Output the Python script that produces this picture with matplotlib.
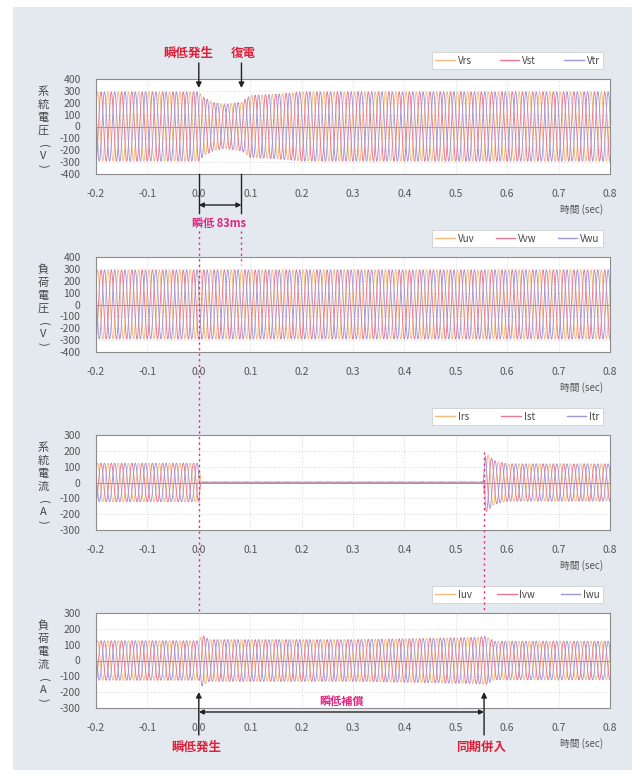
import numpy as np
import matplotlib
matplotlib.use('Agg')
import matplotlib.pyplot as plt
from matplotlib.patches import Rectangle
from matplotlib.lines import Line2D
import matplotlib.transforms as mtransforms

plt.rcParams['font.family'] = ['Noto Sans CJK JP', 'DejaVu Sans']

# ---------------- data ----------------
T_START, T_END = -0.2, 0.8
FREQ_HZ = 50                      # about 10 cycles per 0.2 s
X_TICKS = [-0.2, -0.1, 0.0, 0.1, 0.2, 0.3, 0.4, 0.5, 0.6, 0.7, 0.8]
X_TICK_LABELS = ['-0.2', '-0.1', '0.0', '0.1', '0.2', '0.3', '0.4', '0.5', '0.6', '0.7', '0.8']

V_TICKS = [-400, -300, -200, -100, 0, 100, 200, 300, 400]
I_TICKS = [-300, -200, -100, 0, 100, 200, 300]

# peak-amplitude envelopes (time knots, peak value)
grid_v_t = [-0.2, 0.0, 0.01, 0.03, 0.05, 0.083, 0.10, 0.15, 0.20, 0.8]
grid_v_a = [292, 292, 245, 200, 185, 205, 262, 272, 292, 292]

load_v_t = [-0.2, 0.8]
load_v_a = [290, 290]

grid_i_t = [-0.2, 0.0, 0.004, 0.553, 0.558, 0.575, 0.60, 0.8]
grid_i_a = [122, 122, 4, 4, 188, 138, 118, 118]

load_i_t = [-0.2, 0.0, 0.006, 0.02, 0.30, 0.45, 0.54, 0.558, 0.575, 0.8]
load_i_a = [125, 125, 162, 132, 132, 140, 146, 153, 122, 122]

labels_grid_v = ['Vrs', 'Vst', 'Vtr']
labels_load_v = ['Vuv', 'Vvw', 'Vwu']
labels_grid_i = ['Irs', 'Ist', 'Itr']
labels_load_i = ['Iuv', 'Ivw', 'Iwu']

ylabel_grid_v = ['系', '統', '電', '圧', '(', 'V', ')']
ylabel_load_v = ['負', '荷', '電', '圧', '(', 'V', ')']
ylabel_grid_i = ['系', '統', '電', '流', '(', 'A', ')']
ylabel_load_i = ['負', '荷', '電', '流', '(', 'A', ')']

T_SAG = 0.0          # 瞬低発生
T_RECOVER = 0.083    # 復電
T_SYNC = 0.555       # 同期併入

PHASE_COLORS = ['#f3bb7e', '#ea7790', '#a595d4']

# ---------------- figure ----------------
W, H = 643, 773
fig = plt.figure(figsize=(W / 100, H / 100), dpi=100)
fig.patch.set_facecolor('white')


def fx(px):
    return px / W


def fy(py):
    return 1 - py / H


fig.patches.append(Rectangle((fx(13), fy(770)), fx(632) - fx(13), fy(7) - fy(770),
                             transform=fig.transFigure, facecolor='#e4e9ef',
                             edgecolor='none', zorder=-10))

AX_L, AX_R, AX_H = 96, 610, 95
TOPS = [79, 257, 435, 613]
TEXT_GRAY = '#555555'
RED = '#e0203a'
MAGENTA = '#e2237f'
# pixel offsets (from the axes top) of the stacked y-label characters
YLAB_OFFSETS = [13, 26, 39, 52, 67, 77, 87]

t = np.linspace(T_START, T_END, 20001)

panels = [
    (grid_v_t, grid_v_a, labels_grid_v, ylabel_grid_v, V_TICKS, (-400, 400)),
    (load_v_t, load_v_a, labels_load_v, ylabel_load_v, V_TICKS, (-400, 400)),
    (grid_i_t, grid_i_a, labels_grid_i, ylabel_grid_i, I_TICKS, (-300, 300)),
    (load_i_t, load_i_a, labels_load_i, ylabel_load_i, I_TICKS, (-300, 300)),
]

axes = []
for k, (kt, ka, labs, ylab, yt, ylim) in enumerate(panels):
    top = TOPS[k]
    ax = fig.add_axes([fx(AX_L), fy(top + AX_H), (AX_R - AX_L) / W, AX_H / H])
    ax.set_facecolor('white')
    amp = np.interp(t, kt, ka)
    handles = []
    for p in range(3):
        y = amp * np.sin(2 * np.pi * FREQ_HZ * t + 0.6 - p * 2 * np.pi / 3)
        ax.plot(t, y, color=PHASE_COLORS[p], lw=0.65, zorder=2 + p * 0.1)
        handles.append(Line2D([], [], color=PHASE_COLORS[p], lw=1.0))
    ax.axhline(0, color='#9a9a9a', lw=0.7, zorder=3)
    ax.set_xlim(T_START, T_END)
    ax.set_ylim(*ylim)
    ax.set_xticks(X_TICKS)
    ax.set_xticklabels(X_TICK_LABELS)
    ax.set_yticks(yt)
    ax.set_yticklabels([str(v) for v in yt])
    ax.tick_params(length=0, labelsize=7.5, labelcolor=TEXT_GRAY)
    ax.tick_params(axis='x', pad=11)
    ax.tick_params(axis='y', pad=11)
    ax.grid(True, color='#cfcfcf', lw=0.6, linestyle=(0, (1, 2)), zorder=1)
    ax.set_axisbelow(True)
    for s in ax.spines.values():
        s.set_color('#8c8c8c')
        s.set_linewidth(0.8)
    leg = ax.legend(handles, labs, loc='lower left',
                    bbox_to_anchor=((432 - AX_L) / (AX_R - AX_L), 1 + 10 / AX_H,
                                    171 / (AX_R - AX_L), 16 / AX_H),
                    mode='expand', ncol=3, frameon=True, fancybox=False,
                    facecolor='white', edgecolor='#cfcfcf', framealpha=1,
                    fontsize=7, handlelength=2.0, handletextpad=0.3,
                    borderaxespad=0, borderpad=0.35)
    for txt in leg.get_texts():
        txt.set_color('#444444')
    leg.get_frame().set_linewidth(0.6)
    for ch, off in zip(ylab, YLAB_OFFSETS):
        rot = -90 if ch in '()' else 0
        fig.text(fx(43), fy(top + off), ch, ha='center', va='center', fontsize=8,
                 color='#444444', rotation=rot)
    fig.text(fx(603), fy(top + AX_H + 36), '時間 (sec)', ha='right', va='center',
             fontsize=7, color=TEXT_GRAY)
    axes.append(ax)

ax1, ax4 = axes[0], axes[3]
b1 = mtransforms.blended_transform_factory(ax1.transData, fig.transFigure)
b4 = mtransforms.blended_transform_factory(ax4.transData, fig.transFigure)

# ---- top annotations (panel 1) ----
fig.text(fx(188), fy(53), '瞬低発生', ha='center', va='center', fontsize=9,
         fontweight='bold', color=RED)
fig.text(fx(243), fy(53), '復電', ha='center', va='center', fontsize=9,
         fontweight='bold', color=RED)
for tt in (T_SAG, T_RECOVER):
    ax1.annotate('', xy=(tt, fy(88)), xycoords=b1, xytext=(tt, fy(63)), textcoords=b1,
                 arrowprops=dict(arrowstyle='-|>', color='#222222', lw=1.0,
                                 mutation_scale=8, shrinkA=0, shrinkB=0),
                 annotation_clip=False, zorder=10)
    fig.add_artist(Line2D([tt, tt], [fy(174), fy(213)], transform=b1,
                          color='#222222', lw=1.0))
ax1.annotate('', xy=(T_RECOVER, fy(205)), xycoords=b1, xytext=(T_SAG, fy(205)),
             textcoords=b1,
             arrowprops=dict(arrowstyle='<|-|>', color='#222222', lw=1.0,
                             mutation_scale=7, shrinkA=0, shrinkB=0),
             annotation_clip=False)
fig.text(fx(219), fy(223), '瞬低 83ms', ha='center', va='center', fontsize=8,
         fontweight='bold', color=MAGENTA)

# magenta dotted guide lines
for tt, y0, y1 in ((T_SAG, 231, 613), (T_RECOVER, 231, 265), (T_SYNC, 452, 613)):
    fig.add_artist(Line2D([tt, tt], [fy(y0), fy(y1)], transform=b1, color=MAGENTA,
                          lw=1.0, linestyle=(0, (1.5, 2.5)), zorder=20))

# ---- bottom annotations (panel 4) ----
for tt in (T_SAG, T_SYNC):
    ax4.annotate('', xy=(tt, fy(692)), xycoords=b4, xytext=(tt, fy(735)), textcoords=b4,
                 arrowprops=dict(arrowstyle='-|>', color='#222222', lw=1.0,
                                 mutation_scale=8, shrinkA=0, shrinkB=0),
                 annotation_clip=False, zorder=10)
ax4.annotate('', xy=(T_SYNC, fy(712)), xycoords=b4, xytext=(T_SAG, fy(712)),
             textcoords=b4,
             arrowprops=dict(arrowstyle='<|-|>', color='#222222', lw=1.0,
                             mutation_scale=7, shrinkA=0, shrinkB=0),
             annotation_clip=False)
ax4.text((T_SAG + T_SYNC) / 2, fy(701), '瞬低補償', transform=b4, ha='center',
         va='center', fontsize=8, fontweight='bold', color=MAGENTA, zorder=12)
ax4.text(T_SAG - 0.005, fy(747), '瞬低発生', transform=b4, ha='center', va='center',
         fontsize=9, fontweight='bold', color=RED)
ax4.text(T_SYNC - 0.005, fy(747), '同期併入', transform=b4, ha='center', va='center',
         fontsize=9, fontweight='bold', color=RED)

fig.savefig('out.png', dpi=100, facecolor=fig.get_facecolor())
